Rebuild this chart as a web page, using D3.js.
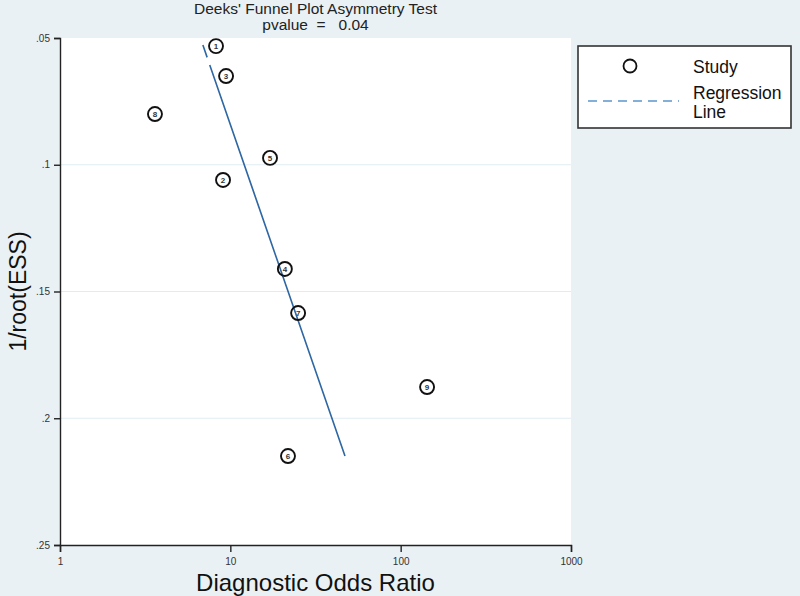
<!DOCTYPE html>
<html>
<head>
<meta charset="utf-8">
<script src="https://cdn.jsdelivr.net/npm/d3@7"></script>
<style>
html,body{margin:0;padding:0;background:#eaf1f4;}
svg{display:block;font-family:"Liberation Sans",Arial,sans-serif;}
</style>
</head>
<body>
<svg id="chart" width="800" height="596"></svg>
<script>
// Data
const studyIds = ["1","2","3","4","5","6","7","8","9"];
const studyDOR = [8.24, 9.06, 9.44, 20.9, 17.1, 21.8, 25.0, 3.61, 142.9];
const studyInvRootESS = [0.0532, 0.106, 0.065, 0.1411, 0.0973, 0.2149, 0.1585, 0.080, 0.1877];
const regLineDOR = [6.9, 47.1];
const regLineY = [0.0528, 0.2149];
const xTicks = [1, 10, 100, 1000];
const xTickLabels = ["1", "10", "100", "1000"];
const yTicks = [0.05, 0.1, 0.15, 0.2, 0.25];
const yTickLabels = [".05", ".1", ".15", ".2", ".25"];
const titleText = "Deeks' Funnel Plot Asymmetry Test";
const subtitleText = "pvalue  =   0.04";

const svg = d3.select("#chart");
const W = 800, H = 596;
const L = 60, R = 571, T = 38, B = 545;

svg.append("rect").attr("width", W).attr("height", H).attr("fill", "#eaf1f4");
svg.append("rect").attr("x", L).attr("y", T).attr("width", R - L).attr("height", B - T).attr("fill", "#ffffff");

const x = d3.scaleLog().domain([1, 1000]).range([L, R]);
const y = d3.scaleLinear().domain([0.05, 0.25]).range([T, B]);

// gridlines
svg.append("g").selectAll("line").data(yTicks.slice(1, 4)).join("line")
  .attr("x1", L).attr("x2", R)
  .attr("y1", d => y(d)).attr("y2", d => y(d))
  .attr("stroke", "#e1ecf2").attr("stroke-width", 1.2);

// axes
const xAxis = d3.axisBottom(x).tickValues(xTicks).tickFormat((d, i) => xTickLabels[i]).tickSize(7).tickPadding(6);
const gx = svg.append("g").attr("transform", `translate(0,${B})`).call(xAxis);
const yAxis = d3.axisLeft(y).tickValues(yTicks).tickFormat((d, i) => yTickLabels[i]).tickSize(6).tickPadding(4);
const gy = svg.append("g").attr("transform", `translate(${L},0)`).call(yAxis);
[gx, gy].forEach(g => {
  g.select(".domain").attr("stroke", "#222").attr("stroke-width", 1.4);
  g.selectAll(".tick line").attr("stroke", "#222").attr("stroke-width", 1.4);
  g.selectAll(".tick text").attr("fill", "#333").attr("font-size", 10).attr("font-family", "Liberation Sans, Arial, sans-serif");
});

// regression line
svg.append("line")
  .attr("x1", x(regLineDOR[0])).attr("y1", y(regLineY[0]))
  .attr("x2", x(regLineDOR[1])).attr("y2", y(regLineY[1]))
  .attr("stroke", "#2e67a3").attr("stroke-width", 1.6)
  .attr("stroke-dasharray", "13,8,2000");

// studies
const pts = svg.append("g").selectAll("g").data(studyIds).join("g")
  .attr("transform", (d, i) => `translate(${x(studyDOR[i])},${y(studyInvRootESS[i])})`);
pts.append("circle").attr("r", 7).attr("fill", "none").attr("stroke", "#111").attr("stroke-width", 1.9);
pts.append("text").text(d => d).attr("text-anchor", "middle").attr("dy", "0.36em")
  .attr("font-size", 8).attr("font-weight", "bold").attr("fill", "#333");

// titles
svg.append("text").attr("x", (L + R) / 2).attr("y", 14).attr("text-anchor", "middle")
  .attr("font-size", 15.5).attr("fill", "#222").text(titleText);
svg.append("text").attr("x", (L + R) / 2).attr("y", 30).attr("text-anchor", "middle")
  .attr("font-size", 15.5).attr("fill", "#222").attr("xml:space", "preserve").style("white-space", "pre").text(subtitleText);
svg.append("text").attr("x", (L + R) / 2).attr("y", 591).attr("text-anchor", "middle")
  .attr("font-size", 24).attr("fill", "#111").text("Diagnostic Odds Ratio");
svg.append("text").attr("transform", `translate(26,${(T + B) / 2}) rotate(-90)`).attr("text-anchor", "middle")
  .attr("font-size", 23).attr("fill", "#111").text("1/root(ESS)");

// legend
const lg = svg.append("g");
lg.append("rect").attr("x", 578).attr("y", 46).attr("width", 213).attr("height", 82)
  .attr("fill", "#fff").attr("stroke", "#333").attr("stroke-width", 1.6);
lg.append("circle").attr("cx", 630).attr("cy", 66).attr("r", 6.5).attr("fill", "none").attr("stroke", "#111").attr("stroke-width", 1.8);
lg.append("text").attr("x", 693).attr("y", 73).attr("font-size", 17.5).attr("fill", "#111").text("Study");
lg.append("line").attr("x1", 588).attr("x2", 679).attr("y1", 101).attr("y2", 101)
  .attr("stroke", "#5b96cc").attr("stroke-width", 1.6).attr("stroke-dasharray", "9,6");
lg.append("text").attr("x", 693).attr("y", 99).attr("font-size", 17.5).attr("fill", "#111").text("Regression");
lg.append("text").attr("x", 693).attr("y", 118).attr("font-size", 17.5).attr("fill", "#111").text("Line");
</script>
</body>
</html>
